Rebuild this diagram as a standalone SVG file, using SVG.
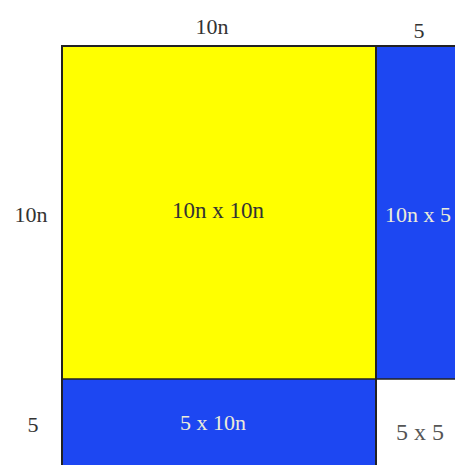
<svg xmlns="http://www.w3.org/2000/svg" width="455" height="465" viewBox="0 0 455 465">
<style>
text{font-family:"Liberation Serif","Times New Roman",serif;text-anchor:middle}
.lbl{font-size:22px;fill:#333}
.dark{font-size:23px;fill:#333}
.light{font-size:22px;fill:#ececd8}
.grey{font-size:24px;fill:#555}
.blue{fill:#1d47f2}
</style>
<rect width="455" height="465" fill="#fff"/>
<g id="yellow">
<rect x="62" y="46" width="314" height="333" fill="#ffff00"/>
<text class="dark" x="218" y="218">10n x 10n</text>
</g>
<g id="right">
<rect class="blue" x="376" y="46" width="79" height="333"/>
<text class="light" x="385" y="222" style="text-anchor:start">10n x 5</text>
</g>
<g id="bottom">
<rect class="blue" x="62" y="379" width="314" height="86"/>
<text class="light" x="213" y="430">5 x 10n</text>
</g>
<g id="corner">
<text class="grey" x="420" y="440">5 x 5</text>
</g>
<g id="lines" stroke="#222" stroke-width="2" fill="none">
<path d="M62 465V46H455"/>
<path d="M376 46V465"/>
<path d="M62 379H455" stroke-width="1.5"/>
</g>
<g id="labels">
<text class="lbl" x="212" y="34">10n</text>
<text class="lbl" x="419" y="38">5</text>
<text class="lbl" x="31" y="222">10n</text>
<text class="lbl" x="33" y="432">5</text>
</g>
</svg>
